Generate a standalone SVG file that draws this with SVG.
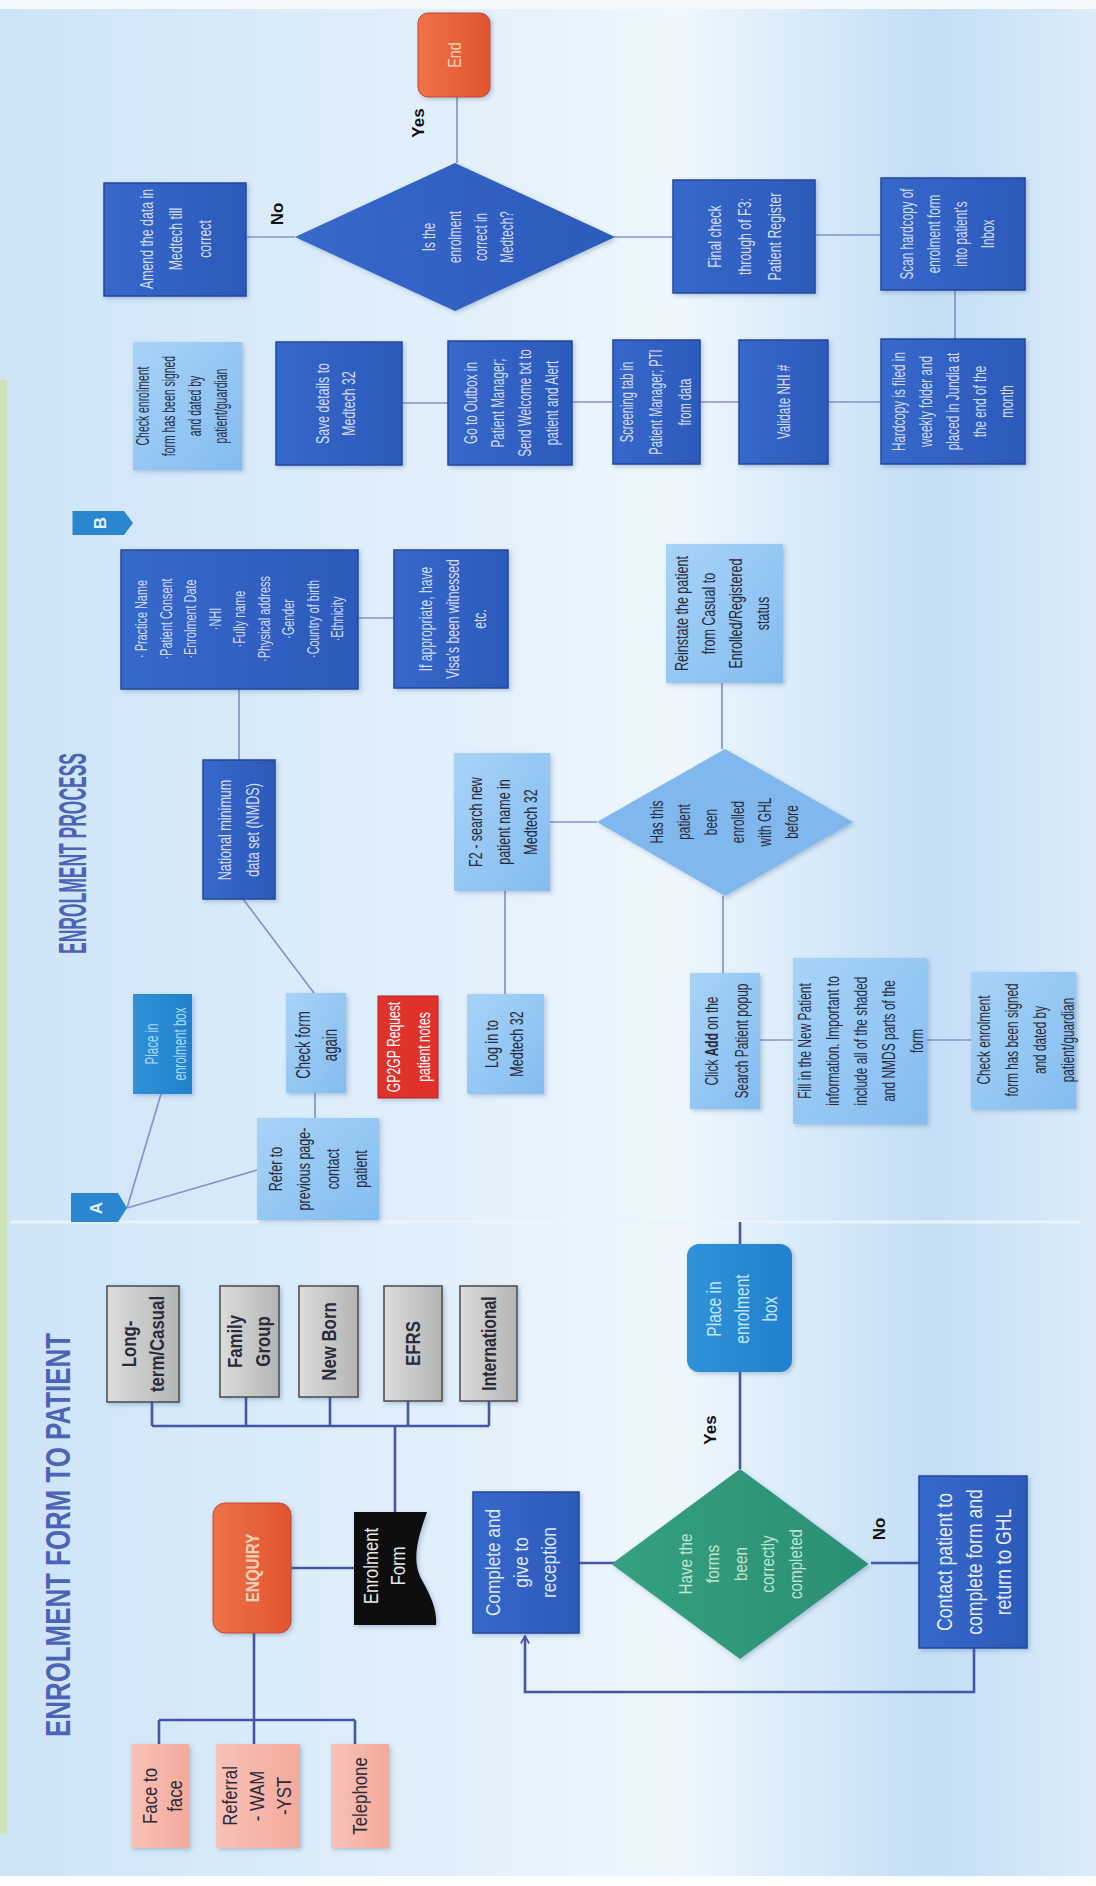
<svg xmlns="http://www.w3.org/2000/svg" width="1096" height="1886" viewBox="0 0 1096 1886">
<defs>
<linearGradient id="bg" x1="0" y1="0" x2="1" y2="0">
<stop offset="0" stop-color="#cde4f7"/>
<stop offset="0.45" stop-color="#e4f1fb"/>
<stop offset="0.62" stop-color="#eef7fd"/>
<stop offset="0.85" stop-color="#c3def5"/>
<stop offset="1" stop-color="#dcecf9"/>
</linearGradient>
<linearGradient id="gDark" x1="0" y1="0" x2="1" y2="0">
<stop offset="0" stop-color="#3668ca"/>
<stop offset="1" stop-color="#2c5abb"/>
</linearGradient>
<linearGradient id="gLight" x1="0" y1="0" x2="1" y2="1">
<stop offset="0" stop-color="#a8d3f7"/>
<stop offset="1" stop-color="#83bcf0"/>
</linearGradient>
<linearGradient id="gMid" x1="0" y1="0" x2="1" y2="0">
<stop offset="0" stop-color="#2f93d8"/>
<stop offset="1" stop-color="#2180cc"/>
</linearGradient>
<linearGradient id="gGray" x1="0" y1="0" x2="1" y2="0">
<stop offset="0" stop-color="#dcdcdc"/>
<stop offset="1" stop-color="#b4b4b4"/>
</linearGradient>
<linearGradient id="gPink" x1="0" y1="0" x2="1" y2="0">
<stop offset="0" stop-color="#f8c2b6"/>
<stop offset="1" stop-color="#f2aa9c"/>
</linearGradient>
<linearGradient id="gOrange" x1="0" y1="0" x2="1" y2="0">
<stop offset="0" stop-color="#ee7248"/>
<stop offset="1" stop-color="#e0552e"/>
</linearGradient>
<linearGradient id="gGreen" x1="0" y1="0" x2="1" y2="0">
<stop offset="0" stop-color="#35a081"/>
<stop offset="1" stop-color="#2b8f72"/>
</linearGradient>
<filter id="sh" x="-20%" y="-20%" width="140%" height="140%">
<feDropShadow dx="2" dy="2" stdDeviation="2" flood-color="#3a5a8a" flood-opacity="0.3"/>
</filter>
<marker id="arr" viewBox="0 0 12 12" refX="10" refY="6" markerWidth="10" markerHeight="10" markerUnits="userSpaceOnUse" orient="auto">
<path d="M1,1 L10,6 L1,11" fill="none" stroke="#4656a6" stroke-width="2"/>
</marker>
<style>
.dk{fill:url(#gDark);stroke:#25479c;stroke-width:1.5;filter:url(#sh)}
.lt{fill:url(#gLight);filter:url(#sh)}
.md{fill:url(#gMid);filter:url(#sh)}
.gy{fill:url(#gGray);stroke:#4a4a4a;stroke-width:1.5;filter:url(#sh)}
.pk{fill:url(#gPink);filter:url(#sh)}
.or{fill:url(#gOrange);stroke:#c4492a;stroke-width:1;filter:url(#sh)}
.gr{fill:url(#gGreen);filter:url(#sh)}
.rd{fill:#e0332c;stroke:#b32320;stroke-width:1;filter:url(#sh)}
.t{font-family:"Liberation Sans",Arial,sans-serif;text-anchor:middle}
.tw{fill:#d3ddf8}
.td{fill:#2a2a38}
.b{font-weight:bold}
.c1{fill:none;stroke:#4656a6;stroke-width:2.6}
.c2{fill:none;stroke:#8593cc;stroke-width:1.7}
.yn{font-family:"Liberation Sans",Arial,sans-serif;font-weight:bold;font-size:17px;fill:#111;text-anchor:middle}
</style>
</defs>

<g id="background">
<rect x="0" y="0" width="1096" height="1886" fill="url(#bg)"/>
<rect x="0" y="0" width="1096" height="9" fill="#f4f9fd"/>
<rect x="0" y="1876" width="1096" height="10" fill="#fbfdff"/>
<rect x="0" y="380" width="7" height="1454" fill="#cfe3b8"/>
<line x1="10" y1="1222" x2="1080" y2="1222" stroke="#e9f4fc" stroke-width="3"/>
</g>

<g id="connectors">
<!-- panel 1 -->
<path class="c1" d="M152 1426 H489 M152 1402 V1426 M246 1397 V1426 M330 1397 V1426 M408 1401 V1426 M489 1401 V1426 M395 1426 V1512"/>
<path class="c1" d="M291 1568 H354"/>
<path class="c1" d="M254 1633 V1720 M159 1720 H355 M159 1720 V1744 M254 1720 V1744 M355 1720 V1744"/>
<path class="c1" d="M579 1563 H615"/>
<path class="c1" d="M740 1469 V1372 M740 1244 V1222"/>
<path class="c1" d="M871 1563 H919"/>
<path class="c1" d="M974 1648 V1692 H525 V1636" marker-end="url(#arr)"/>
<!-- panel 2 -->
<path class="c2" d="M239 760 V689"/>
<path class="c2" d="M358 618 H394"/>
<path class="c2" d="M243 899 L314 993"/>
<path class="c2" d="M315 1093 V1118"/>
<path class="c2" d="M127 1208 L161 1094 M127 1208 L257 1170"/>
<path class="c2" d="M505 994 V891"/>
<path class="c2" d="M550 822 H597"/>
<path class="c2" d="M722 749 V683"/>
<path class="c2" d="M723 896 V973"/>
<path class="c2" d="M760 1040 H793 M927 1040 H971"/>
<!-- panel 3 -->
<path class="c2" d="M402 403 H448 M572 402 H613 M700 402 H739 M828 402 H881"/>
<path class="c2" d="M955 339 V290"/>
<path class="c2" d="M815 235 H881"/>
<path class="c2" d="M614 237 H673"/>
<path class="c2" d="M457 163 V97"/>
<path class="c2" d="M246 237 H295"/>
</g>

<g id="title1">
<text class="b" font-family="Liberation Sans, Arial, sans-serif" font-size="35" fill="#4c63b6" textLength="404" lengthAdjust="spacingAndGlyphs" transform="translate(70,1737) rotate(-90)">ENROLMENT FORM TO PATIENT</text>
</g>
<g id="title2">
<text class="b" font-family="Liberation Sans, Arial, sans-serif" font-size="39" fill="#4c63b6" textLength="201" lengthAdjust="spacingAndGlyphs" transform="translate(86,954) rotate(-90)">ENROLMENT PROCESS</text>
</g>

<!-- Panel 1 nodes -->
<g id="long-term">
<rect class="gy" x="107" y="1286" width="72" height="116"/>
<text class="t td b" font-size="21" transform="translate(143,1344) rotate(-90) scale(0.8,1)"><tspan x="0" y="-6.6">Long-</tspan><tspan x="0" y="21.4">term/Casual</tspan></text>
</g>
<g id="family-group">
<rect class="gy" x="220" y="1286" width="59" height="111"/>
<text class="t td b" font-size="21" transform="translate(249.5,1341.5) rotate(-90) scale(0.8,1)"><tspan x="0" y="-7.1">Family</tspan><tspan x="0" y="20.9">Group</tspan></text>
</g>
<g id="new-born">
<rect class="gy" x="299" y="1286" width="59" height="111"/>
<text class="t td b" font-size="21" transform="translate(328.5,1341.5) rotate(-90) scale(0.8,1)"><tspan x="0" y="7.4">New Born</tspan></text>
</g>
<g id="efrs">
<rect class="gy" x="384" y="1286" width="58" height="115"/>
<text class="t td b" font-size="21" transform="translate(413,1343.5) rotate(-90) scale(0.8,1)"><tspan x="0" y="7.4">EFRS</tspan></text>
</g>
<g id="international">
<rect class="gy" x="460" y="1286" width="57" height="115"/>
<text class="t td b" font-size="21" transform="translate(488.5,1343.5) rotate(-90) scale(0.75,1)"><tspan x="0" y="7.4">International</tspan></text>
</g>
<g id="enquiry">
<rect class="or" x="213" y="1503" width="78" height="130" rx="12"/>
<text class="t b" fill="#f9d3bf" font-size="19" transform="translate(252,1568) rotate(-90) scale(0.8,1)"><tspan x="0" y="6.7">ENQUIRY</tspan></text>
</g>
<g id="enrolment-form">
<path d="M354 1512 H427 C417 1540 411 1562 423 1582 C433 1600 437 1612 436 1625 H354 Z" fill="#0d0d0d" filter="url(#sh)"/>
<text class="t" fill="#e8e8e8" font-size="21" transform="translate(384.5,1566) rotate(-90) scale(0.8,1)"><tspan x="0" y="-6.1">Enrolment</tspan><tspan x="0" y="20.9">Form</tspan></text>
</g>
<g id="face-to-face">
<rect class="pk" x="131" y="1744" width="58" height="104"/>
<text class="t td" font-size="21" transform="translate(162,1796) rotate(-90) scale(0.8,1)"><tspan x="0" y="-5.1">Face to</tspan><tspan x="0" y="19.9">face</tspan></text>
</g>
<g id="referral">
<rect class="pk" x="216" y="1744" width="84" height="104"/>
<text class="t td" font-size="21" transform="translate(257,1796) rotate(-90) scale(0.8,1)"><tspan x="0" y="-19.6">Referral</tspan><tspan x="0" y="7.4">- WAM</tspan><tspan x="0" y="34.4">-YST</tspan></text>
</g>
<g id="telephone">
<rect class="pk" x="331" y="1744" width="58" height="104"/>
<text class="t td" font-size="21" transform="translate(360,1796) rotate(-90) scale(0.8,1)"><tspan x="0" y="7.4">Telephone</tspan></text>
</g>
<g id="complete">
<rect class="dk" x="473" y="1492" width="106" height="141"/>
<text class="t" fill="#dfe8ff" font-size="21" transform="translate(521,1562.5) rotate(-90) scale(0.82,1)"><tspan x="0" y="-20.6">Complete and</tspan><tspan x="0" y="7.4">give to</tspan><tspan x="0" y="35.4">reception</tspan></text>
</g>
<g id="forms-completed">
<polygon class="gr" points="740,1469 868.5,1564 740,1659 611.5,1564"/>
<text class="t" fill="#c2e4d0" font-size="19" transform="translate(740,1564) rotate(-90) scale(0.8,1)"><tspan x="0" y="-48.35">Have the</tspan><tspan x="0" y="-20.85">forms</tspan><tspan x="0" y="6.65">been</tspan><tspan x="0" y="34.15">correctly</tspan><tspan x="0" y="61.65">completed</tspan></text>
</g>
<g id="place-in-box-1">
<rect class="md" x="687" y="1244" width="105" height="128" rx="12"/>
<text class="t" fill="#c4e3fa" font-size="20" transform="translate(742,1309) rotate(-90) scale(0.78,1)"><tspan x="0" y="-21">Place in</tspan><tspan x="0" y="7">enrolment</tspan><tspan x="0" y="35">box</tspan></text>
</g>
<g id="contact-patient">
<rect class="dk" x="919" y="1476" width="108" height="172"/>
<text class="t" fill="#e4ecff" font-size="22" transform="translate(974,1562) rotate(-90) scale(0.8,1)"><tspan x="0" y="-22.3">Contact patient to</tspan><tspan x="0" y="7.7">complete form and</tspan><tspan x="0" y="36.7">return to GHL</tspan></text>
</g>
<g id="labels-p1">
<text class="yn" transform="translate(710,1430) rotate(-90)" y="6">Yes</text>
<text class="yn" transform="translate(879,1529) rotate(-90)" y="6">No</text>
</g>

<!-- Panel 2 nodes -->
<g id="tag-a">
<path d="M71 1193 H118 L127 1208 L118 1222 H71 Z" fill="#2a86cf"/>
<text class="t b" fill="#e6f2ff" font-size="17" transform="translate(96,1208) rotate(-90)"><tspan x="0" y="6">A</tspan></text>
</g>
<g id="place-in-box-2">
<rect class="md" x="133" y="994" width="59" height="100"/>
<text class="t" fill="#acd7f8" font-size="18" transform="translate(166,1044) rotate(-90) scale(0.64,1)"><tspan x="0" y="-7.7">Place in</tspan><tspan x="0" y="20.3">enrolment box</tspan></text>
</g>
<g id="check-form-again">
<rect class="lt" x="286" y="993" width="60" height="100"/>
<text class="t td" font-size="20" transform="translate(316.5,1045) rotate(-90) scale(0.66,1)"><tspan x="0" y="-6.5">Check form</tspan><tspan x="0" y="20.5">again</tspan></text>
</g>
<g id="gp2gp">
<rect class="rd" x="378" y="996" width="60" height="102"/>
<text class="t" fill="#fff" font-size="19" transform="translate(408,1047) rotate(-90) scale(0.64,1)"><tspan x="0" y="-8.35">GP2GP Request</tspan><tspan x="0" y="21.65">patient notes</tspan></text>
</g>
<g id="log-in">
<rect class="lt" x="467" y="994" width="77" height="100"/>
<text class="t td" font-size="19" transform="translate(503.5,1044) rotate(-90) scale(0.66,1)"><tspan x="0" y="-5.85">Log in to</tspan><tspan x="0" y="19.15">Medtech 32</tspan></text>
</g>
<g id="refer">
<rect class="lt" x="257" y="1118" width="122" height="102"/>
<text class="t td" font-size="19" transform="translate(318,1169) rotate(-90) scale(0.66,1)"><tspan x="0" y="-36.35">Refer to</tspan><tspan x="0" y="-7.85">previous page-</tspan><tspan x="0" y="20.65">contact</tspan><tspan x="0" y="49.15">patient</tspan></text>
</g>
<g id="nmds">
<rect class="dk" x="203" y="760" width="72" height="139"/>
<text class="t tw" font-size="18" transform="translate(239,830) rotate(-90) scale(0.7,1)"><tspan x="0" y="-7.7">National minimum</tspan><tspan x="0" y="20.3">data set (NMDS)</tspan></text>
</g>
<g id="nmds-list">
<rect class="dk" x="121" y="550" width="237" height="139"/>
<text class="t tw" font-size="17" transform="translate(239.5,619) rotate(-90) scale(0.64,1)"><tspan x="0" y="-92.05">· Practice Name</tspan><tspan x="0" y="-67.55">·Patient Consent</tspan><tspan x="0" y="-43.05">·Enrolment Date</tspan><tspan x="0" y="-18.55">·NHI</tspan><tspan x="0" y="5.95">·Fully name</tspan><tspan x="0" y="30.45">·Physical address</tspan><tspan x="0" y="54.95">·Gender</tspan><tspan x="0" y="79.45">·Country of birth</tspan><tspan x="0" y="103.95">·Ethnicity</tspan></text>
</g>
<g id="if-appropriate">
<rect class="dk" x="394" y="550" width="114" height="138"/>
<text class="t tw" font-size="19" transform="translate(452,619) rotate(-90) scale(0.64,1)"><tspan x="0" y="-20.35">If appropriate, have</tspan><tspan x="0" y="6.65">Visa's been witnessed</tspan><tspan x="0" y="33.65">etc.</tspan></text>
</g>
<g id="tag-b">
<path d="M72.5 511 H124 L133 523 L124 535 H72.5 Z" fill="#2a86cf"/>
<text class="t b" fill="#e6f2ff" font-size="17" transform="translate(100,523) rotate(-90)"><tspan x="0" y="6">B</tspan></text>
</g>
<g id="f2-search">
<rect class="lt" x="454" y="753" width="96" height="138"/>
<text class="t td" font-size="19" transform="translate(503,822) rotate(-90) scale(0.66,1)"><tspan x="0" y="-21.35">F2 - search new</tspan><tspan x="0" y="6.65">patient name in</tspan><tspan x="0" y="33.65">Medtech 32</tspan></text>
</g>
<g id="enrolled-before">
<polygon points="725,749 853,822 725,896 597,822" fill="#80b8ed" filter="url(#sh)"/>
<text class="t td" font-size="18" transform="translate(724,822) rotate(-90) scale(0.66,1)"><tspan x="0" y="-61.2">Has this</tspan><tspan x="0" y="-34.2">patient</tspan><tspan x="0" y="-7.2">been</tspan><tspan x="0" y="19.8">enrolled</tspan><tspan x="0" y="46.8">with GHL</tspan><tspan x="0" y="73.8">before</tspan></text>
</g>
<g id="reinstate">
<rect class="lt" x="666" y="544" width="117" height="139"/>
<text class="t td" font-size="19" transform="translate(721.5,613.5) rotate(-90) scale(0.66,1)"><tspan x="0" y="-33.85">Reinstate the patient</tspan><tspan x="0" y="-6.85">from Casual to</tspan><tspan x="0" y="20.15">Enrolled/Registered</tspan><tspan x="0" y="47.15">status</tspan></text>
</g>
<g id="click-add">
<rect class="lt" x="690" y="973" width="70" height="136"/>
<text class="t td" font-size="19" transform="translate(726,1041) rotate(-90) scale(0.63,1)"><tspan x="0" y="-8.35">Click <tspan font-weight="bold">Add</tspan> on the</tspan><tspan x="0" y="21.65">Search Patient popup</tspan></text>
</g>
<g id="fill-in">
<rect class="lt" x="793" y="958" width="134" height="166"/>
<text class="t td" font-size="19" transform="translate(860,1041) rotate(-90) scale(0.63,1)"><tspan x="0" y="-49.35">Fill in the New Patient</tspan><tspan x="0" y="-21.35">information. Important to</tspan><tspan x="0" y="6.65">include all of the shaded</tspan><tspan x="0" y="34.65">and NMDS parts of the</tspan><tspan x="0" y="62.65">form</tspan></text>
</g>
<g id="check-signed-2">
<rect class="lt" x="971" y="972" width="105" height="137"/>
<text class="t td" font-size="19" transform="translate(1025,1040) rotate(-90) scale(0.62,1)"><tspan x="0" y="-34.85">Check enrolment</tspan><tspan x="0" y="-6.85">form has been signed</tspan><tspan x="0" y="21.15">and dated by</tspan><tspan x="0" y="49.15">patient/guardian</tspan></text>
</g>

<!-- Panel 3 nodes -->
<g id="check-signed-1">
<rect class="lt" x="133" y="342" width="109" height="128"/>
<text class="t td" font-size="18" transform="translate(182,406) rotate(-90) scale(0.58,1)"><tspan x="0" y="-32.7">Check enrolment</tspan><tspan x="0" y="-6.7">form has been signed</tspan><tspan x="0" y="19.3">and dated by</tspan><tspan x="0" y="45.3">patient/guardian</tspan></text>
</g>
<g id="save-details">
<rect class="dk" x="276" y="342" width="126" height="123"/>
<text class="t tw" font-size="19" transform="translate(335,403.5) rotate(-90) scale(0.65,1)"><tspan x="0" y="-6.35">Save details to</tspan><tspan x="0" y="19.65">Medtech 32</tspan></text>
</g>
<g id="outbox">
<rect class="dk" x="448" y="341" width="124" height="124"/>
<text class="t tw" font-size="18" transform="translate(511,403) rotate(-90) scale(0.65,1)"><tspan x="0" y="-33.7">Go to Outbox in</tspan><tspan x="0" y="-6.7">Patient Manager;</tspan><tspan x="0" y="20.3">Send Welcome txt to</tspan><tspan x="0" y="47.3">patient and Alert</tspan></text>
</g>
<g id="screening">
<rect class="dk" x="613" y="340" width="87" height="124"/>
<text class="t tw" font-size="18" transform="translate(656,402) rotate(-90) scale(0.62,1)"><tspan x="0" y="-22.7">Screening tab in</tspan><tspan x="0" y="6.3">Patient Manager; PTI</tspan><tspan x="0" y="35.3">from data</tspan></text>
</g>
<g id="validate-nhi">
<rect class="dk" x="739" y="340" width="89" height="124"/>
<text class="t tw" font-size="18" transform="translate(783.5,402) rotate(-90) scale(0.65,1)"><tspan x="0" y="6.3">Validate NHI #</tspan></text>
</g>
<g id="hardcopy">
<rect class="dk" x="881" y="339" width="144" height="125"/>
<text class="t tw" font-size="18" transform="translate(953,401.5) rotate(-90) scale(0.65,1)"><tspan x="0" y="-47.7">Hardcopy is filed in</tspan><tspan x="0" y="-20.7">weekly folder and</tspan><tspan x="0" y="6.3">placed in Jundia at</tspan><tspan x="0" y="33.3">the end of the</tspan><tspan x="0" y="60.3">month</tspan></text>
</g>
<g id="scan-hardcopy">
<rect class="dk" x="881" y="178" width="144" height="112"/>
<text class="t tw" font-size="18" transform="translate(947.5,234) rotate(-90) scale(0.65,1)"><tspan x="0" y="-34.2">Scan hardcopy of</tspan><tspan x="0" y="-7.2">enrolment form</tspan><tspan x="0" y="19.8">into patient's</tspan><tspan x="0" y="46.8">Inbox</tspan></text>
</g>
<g id="final-check">
<rect class="dk" x="673" y="180" width="142" height="113"/>
<text class="t tw" font-size="19" transform="translate(744,236.5) rotate(-90) scale(0.65,1)"><tspan x="0" y="-23.35">Final check</tspan><tspan x="0" y="6.65">through of F3:</tspan><tspan x="0" y="36.65">Patient Register</tspan></text>
</g>
<g id="correct-in-medtech">
<polygon points="455,163 615,237 455,311 295,237" fill="url(#gDark)" filter="url(#sh)"/>
<text class="t tw" font-size="18" transform="translate(468,237) rotate(-90) scale(0.65,1)"><tspan x="0" y="-32.7">Is the</tspan><tspan x="0" y="-6.7">enrolment</tspan><tspan x="0" y="19.3">correct in</tspan><tspan x="0" y="45.3">Medtech?</tspan></text>
</g>
<g id="amend">
<rect class="dk" x="104" y="183" width="142" height="113"/>
<text class="t tw" font-size="19" transform="translate(175,239) rotate(-90) scale(0.65,1)"><tspan x="0" y="-22.35">Amend the data in</tspan><tspan x="0" y="6.65">Medtech till</tspan><tspan x="0" y="35.65">correct</tspan></text>
</g>
<g id="end">
<rect class="or" x="418" y="13" width="72" height="84" rx="10"/>
<text class="t" fill="#f8d2be" font-size="19" transform="translate(454,55) rotate(-90) scale(0.75,1)"><tspan x="0" y="6.65">End</tspan></text>
</g>
<g id="labels-p3">
<text class="yn" transform="translate(418,123) rotate(-90)" y="6">Yes</text>
<text class="yn" transform="translate(277,214) rotate(-90)" y="6">No</text>
</g>
</svg>
